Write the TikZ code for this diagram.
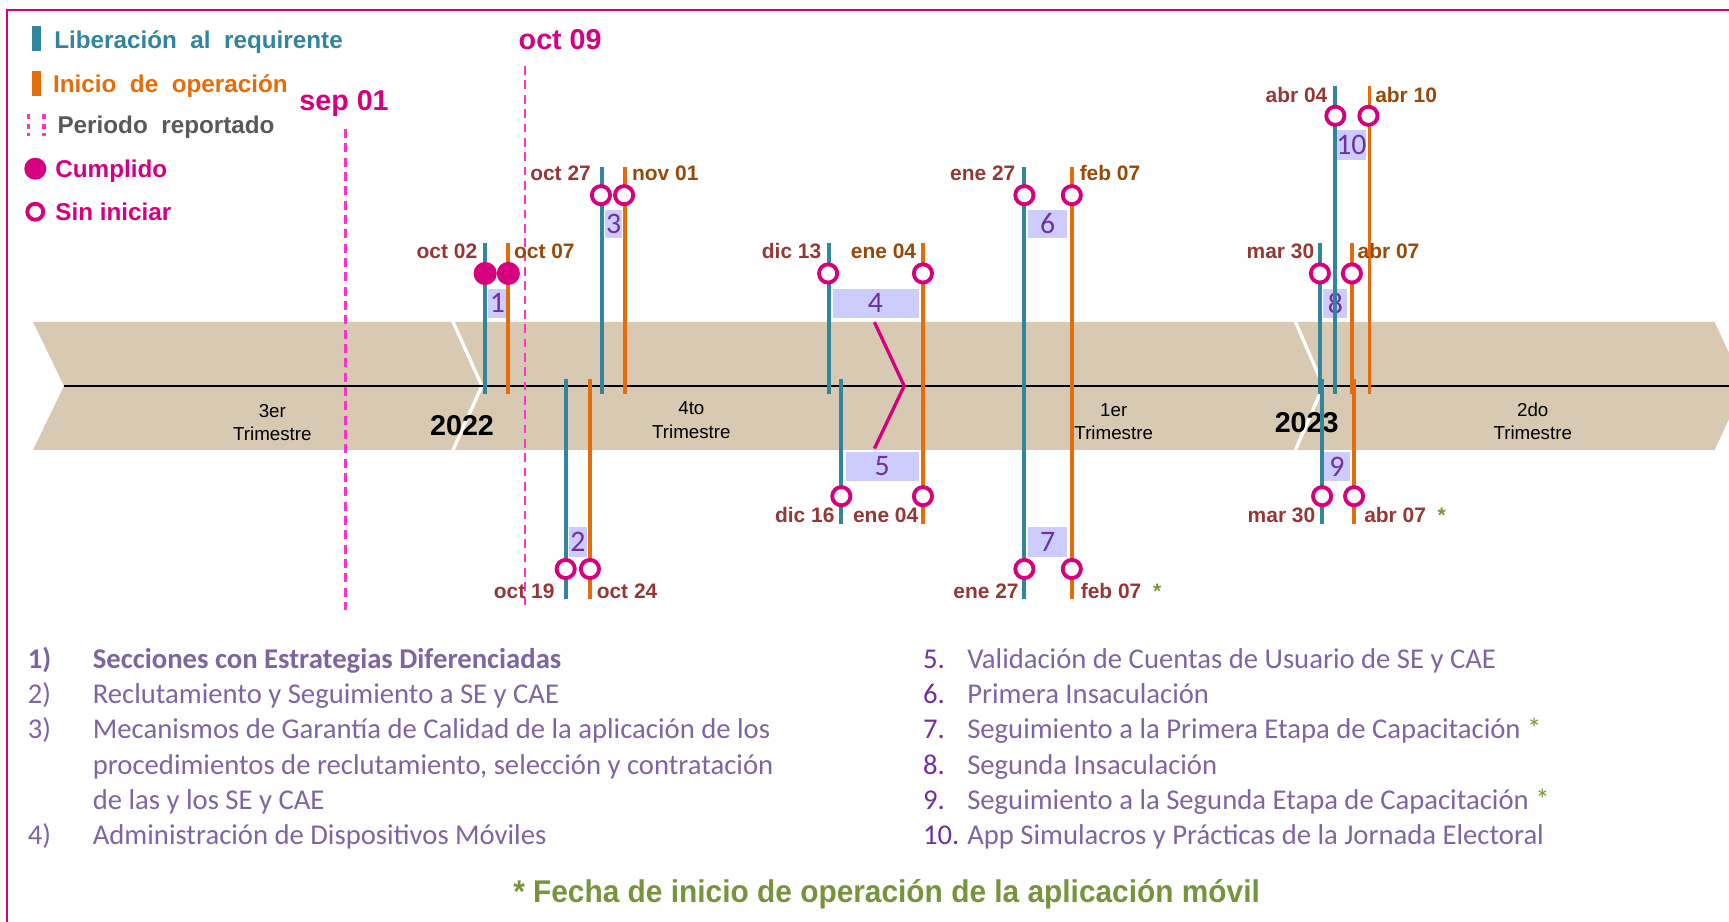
\documentclass[tikz,border=0pt]{standalone}
\usepackage{fontspec}
\setmainfont{Liberation Sans}
\newfontfamily\calfont{Carlito}
\newfontfamily\narrowfont[FakeStretch=0.95]{Liberation Sans}
\newcommand\myfs[1]{\fontsize{#1}{#1}\selectfont}
\definecolor{tealc}{HTML}{31859C}
\definecolor{orgc}{HTML}{E46C0A}
\definecolor{magc}{HTML}{D6007F}
\definecolor{pinkc}{HTML}{FF33CC}
\definecolor{dredc}{HTML}{953735}
\definecolor{dorgc}{HTML}{984807}
\definecolor{boxc}{HTML}{CCCCFF}
\definecolor{numc}{HTML}{7030A0}
\definecolor{bandc}{HTML}{D8CAB2}
\definecolor{listc}{HTML}{8064A2}
\definecolor{grnc}{HTML}{77933C}
\definecolor{grayc}{HTML}{595959}
\begin{document}
\begin{tikzpicture}[x=1pt,y=-1pt,
  tline/.style={tealc, line width=3.5pt},
  oline/.style={orgc, line width=3.5pt},
  periodline/.style={pinkc, line width=2.5pt, dash pattern=on 8pt off 5pt},
  donecirc/.style={circle, fill=magc, minimum size=21pt, inner sep=0pt},
  opencirc/.style={circle, draw=magc, line width=3.5pt, fill=white, minimum size=16.5pt, inner sep=0pt},
  nbox/.style={fill=boxc, inner sep=0pt, text=numc, font=\calfont\myfs{27}},
  ldate/.style={font=\bfseries\myfs{19}, text=dredc, inner sep=0pt, anchor=mid east},
  rdate/.style={font=\bfseries\myfs{19}, text=dorgc, inner sep=0pt, anchor=mid west},
  bdate/.style={font=\bfseries\myfs{19}, text=dredc, inner sep=0pt, anchor=mid west},
  legtext/.style={font=\bfseries\myfs{22}, inner sep=0pt, anchor=mid west},
  qtext/.style={font=\fontsize{17}{21}\selectfont, align=center, inner sep=0pt},
  yeartext/.style={font=\bfseries\myfs{26}, inner sep=0pt},
  listtext/.style={font=\calfont\myfs{26}, text=listc, inner sep=0pt, anchor=base west},
  listnum/.style={font=\calfont\myfs{26}, text=numc, inner sep=0pt, anchor=base west}
]
\useasboundingbox (0,0) rectangle (1568,836);
\clip (0,0) rectangle (1568,836);
% frame
\draw[magc, line width=2pt] (6,860) -- (6,9) -- (1590,9);

% legend
\fill[tealc] (29,24) rectangle (37,46);
\node[legtext, text=tealc] (lg1) at (49,41) {Liberación\ \ al\ \ requirente};
\fill[orgc] (29,64) rectangle (37,87);
\node[legtext, text=orgc] (lg2) at (48,81) {Inicio\ \ de\ \ operación};
\draw[pinkc, line width=3pt, dash pattern=on 5pt off 4pt] (26,103) -- (26,123);
\draw[pinkc, line width=3pt, dash pattern=on 5pt off 4pt] (40,103) -- (40,123);
\node[legtext, text=grayc] (lg3) at (52,118) {Periodo\ \ reportado};
\node[donecirc, minimum size=20pt] (lc1) at (32,153) {};
\node[legtext, text=magc] (lg4) at (50,158) {Cumplido};
\node[opencirc, minimum size=14.5pt] (lc2) at (32,192) {};
\node[legtext, text=magc] (lg5) at (50,197) {Sin iniciar};

% band
\fill[bandc] (30,292) -- (1555,292) -- (1582,350) -- (1555,408) -- (30,408) -- (58,350) -- cycle;
\draw[white, line width=3pt] (410,290) -- (437,350) -- (410,410);
\draw[white, line width=3pt] (1174,290) -- (1200,350) -- (1174,410);
\draw[black, line width=2pt] (58,350) -- (1570,350);

% quarter and year labels
\node[qtext] (q3) at (247,383) {3er\\Trimestre};
\node[qtext] (q4) at (627,381) {4to\\Trimestre};
\node[qtext] (q1) at (1010,382) {1er\\Trimestre};
\node[qtext] (q2) at (1390,382) {2do\\Trimestre};
\node[yeartext] (y22) at (419,386) {2022};
\node[yeartext] (y23) at (1185,383) {2023};

% reported period
\node[font=\bfseries\myfs{26}, text=magc, inner sep=0pt] (sep) at (312,94) {sep 01};
\node[font=\bfseries\myfs{26}, text=magc, inner sep=0pt] (oct) at (508,36) {oct 09};
\coordinate (sepb) at (313,553);
\coordinate (octb) at (476,553);
\draw[periodline] (313,117) -- (sepb);
\draw[periodline] (476,60) -- (octb);

% boxes
\node[nbox, minimum width=16pt, minimum height=26pt] (b1) at (451,275) {1};
\node[nbox, minimum width=16pt, minimum height=27pt] (b2) at (524,491.5) {2};
\node[nbox, minimum width=15pt, minimum height=26pt] (b3) at (556.5,203) {3};
\node[nbox, minimum width=78pt, minimum height=26pt] (b4) at (794,275) {4};
\node[nbox, minimum width=66pt, minimum height=26pt] (b5) at (800,423) {5};
\node[nbox, minimum width=36pt, minimum height=26pt] (b6) at (950,203) {6};
\node[nbox, minimum width=36pt, minimum height=27pt] (b7) at (950,491.5) {7};
\node[nbox, minimum width=22pt, minimum height=26pt] (b8) at (1211,275) {8};
\node[nbox, minimum width=23pt, minimum height=26pt] (b9) at (1212.5,423) {9};
\node[nbox, minimum width=25pt, minimum height=27pt] (b10) at (1225.5,131.5) {10};

% vertical lines
\draw[tline] (440,220) -- (440,357);
\draw[oline] (461,220) -- (461,357);
\draw[tline] (546,151) -- (546,357);
\draw[oline] (567,151) -- (567,357);
\draw[tline] (513,344) -- (513,543);
\draw[oline] (535,344) -- (535,543);
\draw[tline] (752,220) -- (752,357);
\draw[tline] (763,344) -- (763,475);
\draw[oline] (837,220) -- (837,475);
\draw[tline] (929,151) -- (929,543);
\draw[oline] (972,151) -- (972,543);
\draw[tline] (1197,220) -- (1197,357);
\draw[oline] (1226,220) -- (1226,357);
\draw[tline] (1199,344) -- (1199,475);
\draw[oline] (1228,344) -- (1228,475);
\draw[tline] (1211,78) -- (1211,357);
\draw[oline] (1242,78) -- (1242,357);

% bracket between 4 and 5
\coordinate (kk) at (820,350);
\draw[magc, line width=3pt] ([xshift=-1pt,yshift=-4pt]b4.south) -- (kk) -- ([xshift=-7pt,yshift=3pt]b5.north);

% circles
\node[donecirc] (c1a) at (440,248) {};
\node[donecirc] (c1b) at (461,248) {};
\node[opencirc] (c3a) at (545,177) {};
\node[opencirc] (c3b) at (566,177) {};
\node[opencirc] (c2a) at (513,516) {};
\node[opencirc] (c2b) at (535,516) {};
\node[opencirc] (c4a) at (751,248) {};
\node[opencirc] (c4b) at (837,248) {};
\node[opencirc] (c5a) at (763,450) {};
\node[opencirc] (c5b) at (837,450) {};
\node[opencirc] (c6a) at (929,177) {};
\node[opencirc] (c6b) at (972,177) {};
\node[opencirc] (c7a) at (929,516) {};
\node[opencirc] (c7b) at (972,516) {};
\node[opencirc] (c8a) at (1197,248) {};
\node[opencirc] (c8b) at (1226,248) {};
\node[opencirc] (c9a) at (1199,450) {};
\node[opencirc] (c9b) at (1228,450) {};
\node[opencirc] (c10a) at (1211,105) {};
\node[opencirc] (c10b) at (1241,105) {};

% date labels
\node[ldate] (d10a) at (1204,90) {abr 04};
\node[rdate] (d10b) at (1247,90) {abr 10};
\node[ldate] (d3a) at (536,161) {oct 27};
\node[rdate] (d3b) at (573,161) {nov 01};
\node[ldate] (d6a) at (921,161) {ene 27};
\node[rdate] (d6b) at (979,161) {feb 07};
\node[ldate] (d1a) at (433,232) {oct 02};
\node[rdate] (d1b) at (466,232) {oct 07};
\node[ldate] (d4a) at (745,232) {dic 13};
\node[rdate, anchor=mid east] (d4b) at (831,232) {ene 04};
\node[ldate] (d8a) at (1192,232) {mar 30};
\node[rdate] (d8b) at (1231,232) {abr 07};
\node[ldate] (d5a) at (757,471) {dic 16};
\node[bdate, anchor=mid east] (d5b) at (833,471) {ene 04};
\node[ldate] (d9a) at (1193,471) {mar 30};
\node[bdate] (d9b) at (1237,471) {abr 07\ \ {\color{grnc}*}};
\node[ldate] (d2a) at (503,540) {oct 19};
\node[bdate] (d2b) at (541,540) {oct 24};
\node[ldate] (d7a) at (924,540) {ene 27};
\node[bdate] (d7b) at (980,540) {feb 07\ \ {\color{grnc}*}};

% list left
\node[listtext, font=\calfont\bfseries\myfs{26}] (n1) at (25,606) {1)};
\node[listtext, font=\calfont\bfseries\myfs{26}] (t1) at (84,606) {Secciones con Estrategias Diferenciadas};
\node[listtext] (n2) at (25,638) {2)};
\node[listtext] (t2) at (84,638) {Reclutamiento y Seguimiento a SE y CAE};
\node[listtext] (n3) at (25,670) {3)};
\node[listtext] (t3a) at (84,670) {Mecanismos de Garantía de Calidad de la aplicación de los};
\node[listtext] (t3b) at (84,702) {procedimientos de reclutamiento, selección y contratación};
\node[listtext] (t3c) at (84,734) {de las y los SE y CAE};
\node[listtext] (n4) at (25,766) {4)};
\node[listtext] (t4) at (84,766) {Administración de Dispositivos Móviles};

% list right
\node[listnum] (n5) at (837,606) {5.};
\node[listtext] (t5) at (877,606) {Validación de Cuentas de Usuario de SE y CAE};
\node[listnum] (n6) at (837,638) {6.};
\node[listtext] (t6) at (877,638) {Primera Insaculación};
\node[listnum] (n7) at (837,670) {7.};
\node[listtext] (t7) at (877,670) {Seguimiento a la Primera Etapa de Capacitación {\color{grnc}*}};
\node[listnum] (n8) at (837,702) {8.};
\node[listtext] (t8) at (877,702) {Segunda Insaculación};
\node[listnum] (n9) at (837,734) {9.};
\node[listtext] (t9) at (877,734) {Seguimiento a la Segunda Etapa de Capacitación {\color{grnc}*}};
\node[listnum] (n10) at (837,766) {10.};
\node[listtext] (t10) at (877,766) {App Simulacros y Prácticas de la Jornada Electoral};

% footnote
\node[font=\narrowfont\bfseries\myfs{28.5}, text=grnc, inner sep=0pt] (foot) at (804,811) {* Fecha de inicio de operación de la aplicación móvil};
\end{tikzpicture}
\end{document}
